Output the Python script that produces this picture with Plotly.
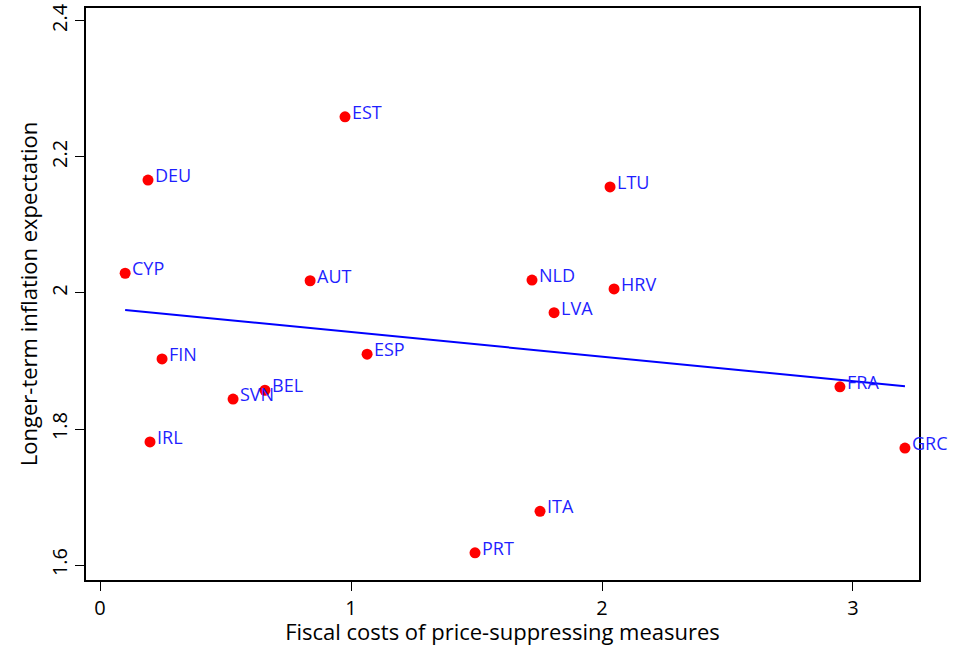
import numpy as np
import plotly.graph_objects as go

# country codes with fiscal cost (x) and longer-term inflation expectation (y)
countries = ["EST", "DEU", "LTU", "CYP", "AUT", "NLD", "HRV", "LVA", "FIN",
             "ESP", "BEL", "SVN", "IRL", "FRA", "GRC", "ITA", "PRT"]
fiscal_costs = [0.976, 0.191, 2.032, 0.100, 0.837, 1.721, 2.048, 1.809, 0.247,
                1.064, 0.657, 0.530, 0.199, 2.948, 3.207, 1.753, 1.494]
infl_expect = [2.259, 2.166, 2.156, 2.029, 2.018, 2.019, 2.006, 1.971, 1.903,
               1.910, 1.857, 1.844, 1.781, 1.862, 1.772, 1.679, 1.618]

# linear fit over the observed range
slope, intercept = np.polyfit(fiscal_costs, infl_expect, 1)
fit_x = [min(fiscal_costs), max(fiscal_costs)]
fit_y = [intercept + slope * v for v in fit_x]

fig = go.Figure()
fig.add_trace(go.Scatter(x=fit_x, y=fit_y, mode="lines",
                         line=dict(color="#0000ff", width=2), hoverinfo="skip"))
fig.add_trace(go.Scatter(x=fiscal_costs, y=infl_expect, mode="markers",
                         marker=dict(color="#ff0000", size=11),
                         text=countries, hoverinfo="text+x+y"))

# country labels sit just right of and slightly above each point
for name, xv, yv in zip(countries, fiscal_costs, infl_expect):
    fig.add_annotation(x=xv, y=yv, text=name, showarrow=False,
                       xanchor="left", yanchor="middle", xshift=5, yshift=5,
                       font=dict(color="#1f1fff", size=18, family="Open Sans"))

axis_style = dict(showline=True, linecolor="black", linewidth=1.5, mirror=True,
                  ticks="outside", ticklen=9, tickwidth=1.3, tickcolor="black",
                  showgrid=False, zeroline=False,
                  tickfont=dict(size=20, color="black", family="Open Sans"))

fig.update_xaxes(axis_style, range=[-0.056, 3.263], tickvals=[0, 1, 2, 3],
                 title=dict(text="Fiscal costs of price-suppressing measures",
                            font=dict(size=22, family="Open Sans", color="black"),
                            standoff=6))
fig.update_yaxes(axis_style, range=[1.578, 2.419], tickvals=[1.6, 1.8, 2, 2.2, 2.4],
                 tickangle=-90,
                 title=dict(text="Longer-term inflation expectation",
                            font=dict(size=22, family="Open Sans", color="black"),
                            standoff=3))

fig.update_layout(width=960, height=646, showlegend=False,
                  plot_bgcolor="white", paper_bgcolor="white",
                  margin=dict(l=86, r=41, t=8, b=66, autoexpand=False),
                  font=dict(family="Open Sans"))

# drop the default page margin so the figure starts at the window corner
fig.write_html("out.html", config={"displayModeBar": False},
               post_script="document.body.style.margin='0';")
